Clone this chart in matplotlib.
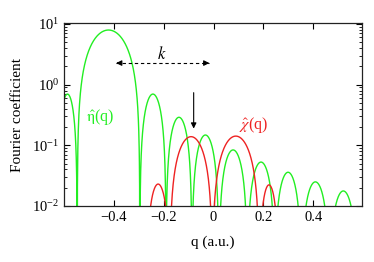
import numpy as np
import matplotlib.pyplot as plt

plt.rcParams['font.family'] = ['Liberation Serif', 'DejaVu Serif']
plt.rcParams['mathtext.fontset'] = 'stix'
plt.rcParams['axes.unicode_minus'] = True

# eta(q) (green): lobe edges (zeros) and lobe heights
eta_zeros = [-0.625, -0.547, -0.296, -0.191, -0.087, 0.021, 0.135, 0.245, 0.352, 0.464, 0.576]
eta_peaks = [0.70, 7.96, 0.70, 0.29, 0.148, 0.084, 0.053, 0.036, 0.025, 0.0177]

# chi(q) (red)
chi_zeros = [-0.269, -0.176, -0.005, 0.183, 0.261]
chi_peaks = [0.023, 0.139, 0.142, 0.0223]

xticks = [-0.4, -0.2, 0, 0.2, 0.4]
xticklabels = ['\u22120.4', '\u22120.2', '0', '0.2', '0.4']


def lobes(zeros, peaks):
    # each lobe drawn as a rounded arch between two zeros
    qs, vs = [], []
    for a, b, h in zip(zeros[:-1], zeros[1:], peaks):
        t = np.linspace(0, 1, 300)
        qs.append(a + (b - a) * t)
        vs.append(h * np.sin(np.pi * t) ** 1.3)
    return np.concatenate(qs), np.maximum(np.concatenate(vs), 1e-6)


fig = plt.figure(figsize=(3.74, 2.62), dpi=100)
ax = fig.add_axes([64 / 374, 56 / 262, 298 / 374, 182.7 / 262])

q, v = lobes(eta_zeros, eta_peaks)
ax.plot(q, v, color='#22ee22', lw=1.0)
q, v = lobes(chi_zeros, chi_peaks)
ax.plot(q, v, color='#ee2222', lw=1.0)

ax.set_yscale('log')
ax.set_xlim(-0.6, 0.595)
ax.set_ylim(1e-2, 10.27)
ax.set_xticks(xticks)
ax.set_xticklabels(xticklabels)

ax.tick_params(which='both', direction='in', top=True, right=True, labelsize=10.5)
ax.tick_params(which='major', length=4, width=0.8)
ax.tick_params(which='minor', length=2, width=0.6)
for s in ax.spines.values():
    s.set_linewidth(0.9)
    s.set_color('#222222')

ax.set_xlabel('q (a.u.)', fontsize=11)
ax.set_ylabel('Fourier coefficient', fontsize=11)
ax.xaxis.set_label_coords(0.5, -0.16)
ax.yaxis.set_label_coords(-0.135, 0.5)

# k arrow (dashed, two heads)
ky = 2.27
ax.plot([-0.39, -0.02], [ky, ky], color='k', lw=0.8, dashes=(3, 2.5))
ax.annotate('', xy=(-0.402, ky), xytext=(-0.37, ky),
            arrowprops=dict(arrowstyle='-|>', color='k', lw=0.8, mutation_scale=8))
ax.annotate('', xy=(-0.006, ky), xytext=(-0.04, ky),
            arrowprops=dict(arrowstyle='-|>', color='k', lw=0.8, mutation_scale=8))
ax.text(-0.206, 3.1, '$k$', fontsize=12, ha='center', va='center')

# vertical arrow
ax.annotate('', xy=(-0.08, 0.17), xytext=(-0.08, 0.82),
            arrowprops=dict(arrowstyle='-|>', color='k', lw=0.8, mutation_scale=8))

ax.text(-0.51, 0.29, r'$\hat{\mathrm{\eta}}$(q)', color='#22ee22', fontsize=11.5, va='center')
ax.text(0.102, 0.215, r'$\hat{\chi}$(q)', color='#ee2222', fontsize=11.5, va='center')

fig.savefig('out.png', dpi=100)
